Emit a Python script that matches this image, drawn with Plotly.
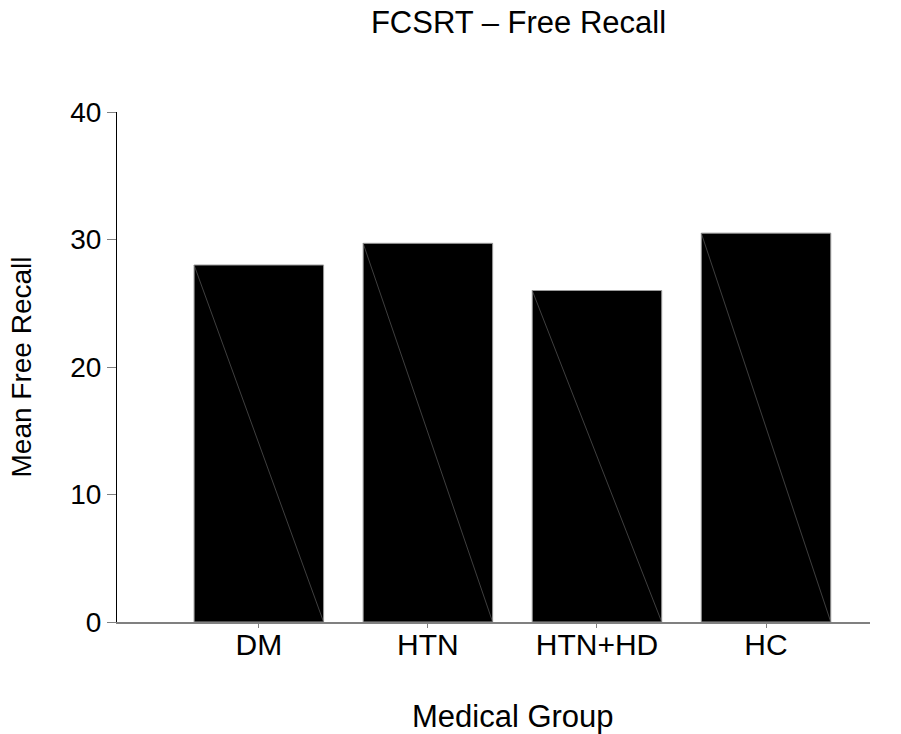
import plotly.graph_objects as go

categories = ["DM", "HTN", "HTN+HD", "HC"]
mean_free_recall = [28.0, 29.7, 26.0, 30.5]
y_ticks = [0, 10, 20, 30, 40]

bar_width = 0.766
positions = list(range(len(categories)))

FONT = "Liberation Sans, Arial, Helvetica, sans-serif"

fig = go.Figure()
fig.add_trace(go.Bar(
    x=positions, y=mean_free_recall, width=bar_width,
    marker=dict(color="black", line=dict(color="#9a9a9a", width=1)),
    showlegend=False, hoverinfo="x+y",
))

# faint diagonal artifact inside each bar (top-left to bottom-right)
dx, dy = [], []
for p, v in zip(positions, mean_free_recall):
    dx += [p - bar_width / 2, p + bar_width / 2, None]
    dy += [v, 0, None]
fig.add_trace(go.Scatter(x=dx, y=dy, mode="lines",
                         line=dict(color="#6a6a6a", width=0.6),
                         showlegend=False, hoverinfo="skip"))

fig.update_layout(
    width=901, height=734,
    margin=dict(l=117, r=31, t=112, b=112),
    paper_bgcolor="white", plot_bgcolor="white",
    font=dict(family=FONT, color="black"),
    title=dict(text="FCSRT – Free Recall", font=dict(size=31, family=FONT, color="black"),
               x=(518.5 - 117) / 753, xref="paper", xanchor="center",
               y=1 - 22 / 734, yref="container", yanchor="middle"),
    xaxis=dict(range=[-0.839, 3.615], tickvals=positions, ticktext=categories,
               showgrid=False, zeroline=False, showline=True, linecolor="#808080",
               linewidth=1.5, ticks="outside", ticklen=4, tickcolor="#808080",
               ticklabelstandoff=-9,
               tickfont=dict(size=30, family=FONT, color="black")),
    yaxis=dict(range=[0, 40], tickvals=y_ticks, showgrid=False, zeroline=False,
               showline=True, linecolor="black", linewidth=1,
               ticks="outside", ticklen=9, tickcolor="#808080",
               tickfont=dict(size=28, family=FONT, color="black"),
               title=dict(text="Mean Free Recall", standoff=30,
                          font=dict(size=28, family=FONT, color="black"))),
    annotations=[dict(text="Medical Group", xref="paper", yref="paper",
                      x=(512.5 - 117) / 753, y=-(716 - 622) / 510,
                      xanchor="center", yanchor="middle", showarrow=False,
                      font=dict(size=31, family=FONT, color="black"))],
)

fig.write_html("out.html", config={"displayModeBar": False},
               post_script="document.body.style.margin='0';document.body.style.overflow='hidden';")
